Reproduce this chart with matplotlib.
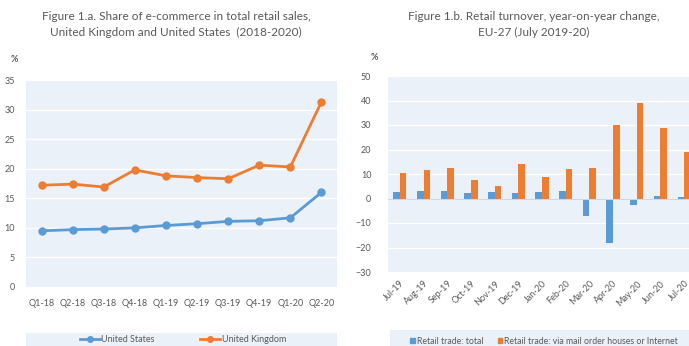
import numpy as np
import matplotlib.pyplot as plt
from matplotlib.patches import Rectangle
from matplotlib.lines import Line2D

plt.rcParams['font.family'] = ['Lato', 'DejaVu Sans']

# Share of e-commerce in total retail sales (%)
quarters = ['Q1-18', 'Q2-18', 'Q3-18', 'Q4-18', 'Q1-19', 'Q2-19', 'Q3-19', 'Q4-19', 'Q1-20', 'Q2-20']
us_share = [9.5, 9.7, 9.8, 10.0, 10.4, 10.7, 11.1, 11.2, 11.7, 16.0]
uk_share = [17.2, 17.4, 16.9, 19.8, 18.8, 18.5, 18.3, 20.6, 20.3, 31.3]

# Retail turnover, year-on-year change (%)
months = ['Jul-19', 'Aug-19', 'Sep-19', 'Oct-19', 'Nov-19', 'Dec-19', 'Jan-20',
          'Feb-20', 'Mar-20', 'Apr-20', 'May-20', 'Jun-20', 'Jul-20']
retail_total = [2.5, 2.9, 3.0, 2.1, 2.6, 2.1, 2.6, 3.0, -7.1, -18.0, -2.5, 1.2, 0.5]
retail_online = [10.3, 11.8, 12.3, 7.5, 5.3, 13.9, 8.6, 12.0, 12.5, 30.1, 39.0, 28.6, 19.0]

BLUE = '#5b9bd5'
ORANGE = '#ed7d31'
BG = '#eaf1f9'
GREY = '#595959'
W, H = 689, 346

fig = plt.figure(figsize=(W / 100, H / 100), dpi=100)


def box(x0, y0, x1, y1):
    # pixel box (top-left origin) -> figure fraction rect
    return [x0 / W, 1 - y1 / H, (x1 - x0) / W, (y1 - y0) / H]


def style(ax):
    ax.set_facecolor(BG)
    for s in ax.spines.values():
        s.set_visible(False)
    ax.grid(axis='y', color='white', linewidth=1.0)
    ax.set_axisbelow(True)
    ax.tick_params(length=0, labelsize=6.5, colors=GREY)


# --- left: line chart ---
ax1 = fig.add_axes(box(26, 80, 337, 287))
style(ax1)
x = np.arange(len(quarters))
ax1.plot(x, us_share, color=BLUE, lw=2, marker='o', ms=5)
ax1.plot(x, uk_share, color=ORANGE, lw=2, marker='o', ms=5)
ax1.set_xlim(-0.5, len(quarters) - 0.5)
ax1.set_ylim(0, 35)
ax1.set_yticks(range(0, 36, 5))
ax1.set_xticks(x)
ax1.set_xticklabels(quarters)
ax1.tick_params(axis='x', pad=9)
ax1.tick_params(axis='y', pad=8)

fig.text(176 / W, 1 - 17 / H, 'Figure 1.a. Share of e-commerce in total retail sales,',
         ha='center', va='center', fontsize=8.5, color=GREY)
fig.text(176 / W, 1 - 32 / H, 'United Kingdom and United States  (2018-2020)',
         ha='center', va='center', fontsize=8.5, color=GREY)
fig.text(14 / W, 1 - 59 / H, '%', ha='center', va='center', fontsize=6.5,
         color=GREY, fontweight='bold')

fig.patches.append(Rectangle((26 / W, 0), 311 / W, 13 / H, transform=fig.transFigure,
                             facecolor=BG, edgecolor='none', zorder=0))
h1 = [Line2D([], [], color=BLUE, lw=2, marker='o', ms=4),
      Line2D([], [], color=ORANGE, lw=2, marker='o', ms=4)]
fig.legend(h1, ['United States', 'United Kingdom'], loc='center',
           bbox_to_anchor=(183 / W, 1 - 340 / H), ncol=2, frameon=False,
           fontsize=6.5, labelcolor=GREY, handlelength=2.2, handletextpad=0.2,
           columnspacing=5.0)

# --- right: grouped bar chart ---
ax2 = fig.add_axes(box(388, 76, 696, 272))
style(ax2)
xm = np.arange(len(months))
bw = 0.28
ax2.bar(xm - bw / 2, retail_total, bw, color=BLUE)
ax2.bar(xm + bw / 2, retail_online, bw, color=ORANGE)
ax2.axhline(0, color='#d0d6dd', lw=0.8, zorder=1)
ax2.set_xlim(-0.5, len(months) - 0.5)
ax2.set_ylim(-30, 50)
ax2.set_yticks(range(-30, 51, 10))
ax2.set_xticks(xm)
ax2.set_xticklabels(months, rotation=45, ha='right', rotation_mode='anchor')
ax2.tick_params(axis='x', pad=5)
ax2.tick_params(axis='y', pad=12)

fig.text(534 / W, 1 - 17 / H, 'Figure 1.b. Retail turnover, year-on-year change,',
         ha='center', va='center', fontsize=8.5, color=GREY)
fig.text(534 / W, 1 - 32 / H, 'EU-27 (July 2019-20)',
         ha='center', va='center', fontsize=8.5, color=GREY)
fig.text(374 / W, 1 - 57 / H, '%', ha='center', va='center', fontsize=6.5,
         color=GREY, fontweight='bold')

fig.patches.append(Rectangle((390 / W, 0), 299 / W, 16 / H, transform=fig.transFigure,
                             facecolor=BG, edgecolor='none', zorder=0))
h2 = [Rectangle((0, 0), 1, 1, color=BLUE), Rectangle((0, 0), 1, 1, color=ORANGE)]
fig.legend(h2, ['Retail trade: total', 'Retail trade: via mail order houses or Internet'],
           loc='center left', bbox_to_anchor=(410 / W, 1 - 341 / H), ncol=2,
           frameon=False, fontsize=6.3, labelcolor=GREY, handlelength=0.55,
           handleheight=0.55, handletextpad=0.25, columnspacing=1.6,
           borderaxespad=0, borderpad=0)

fig.savefig('out.png', dpi=100)
